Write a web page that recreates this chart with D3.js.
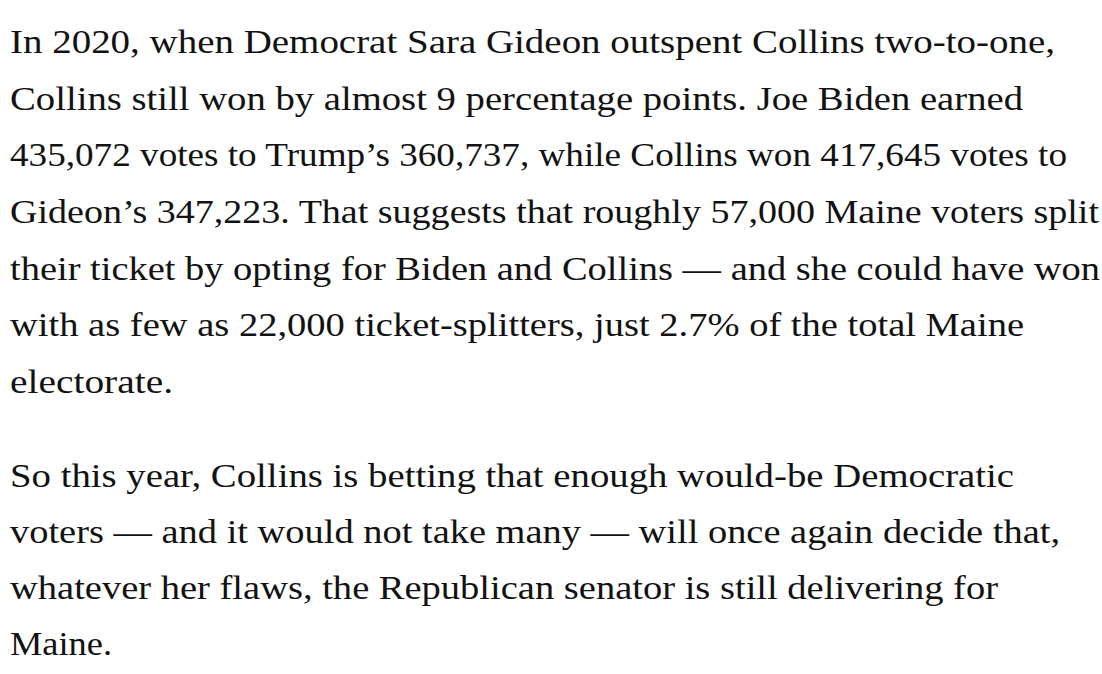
<!DOCTYPE html>
<html lang="en">
<head>
  <meta charset="UTF-8" />
  <title>Collins ticket-splitting</title>
  <script src="https://d3js.org/d3.v7.min.js"></script>
  <style>
    body {
      margin: 0;
      background: #ffffff;
    }
    svg {
      display: block;
    }
    .line {
      font-family: "Liberation Serif", "Times New Roman", serif;
      font-size: 33px;
      fill: #121212;
    }
  </style>
</head>
<body>
  <svg width="1102" height="674"></svg>
  <script>
    // Text of the two paragraphs, one entry per rendered line.
    const paragraphOne = [
      "In 2020, when Democrat Sara Gideon outspent Collins two-to-one,",
      "Collins still won by almost 9 percentage points. Joe Biden earned",
      "435,072 votes to Trump\u2019s 360,737, while Collins won 417,645 votes to",
      "Gideon\u2019s 347,223. That suggests that roughly 57,000 Maine voters split",
      "their ticket by opting for Biden and Collins \u2014 and she could have won",
      "with as few as 22,000 ticket-splitters, just 2.7% of the total Maine",
      "electorate."
    ];
    const paragraphTwo = [
      "So this year, Collins is betting that enough would-be Democratic",
      "voters \u2014 and it would not take many \u2014 will once again decide that,",
      "whatever her flaws, the Republican senator is still delivering for",
      "Maine."
    ];

    // Layout: where each line ends on the right (measured off the page).
    const endsOne = [1055, 1023, 1067, 1099, 1100, 1024, 173];
    const endsTwo = [1014, 1060, 998, 112];

    const left = 10;
    const svg = d3.select("svg");

    function drawParagraph(lines, ends, firstBaseline, step) {
      const y = d3.scaleLinear().domain([0, 1]).range([firstBaseline, firstBaseline + step]);
      svg.append("g")
        .selectAll("text")
        .data(lines)
        .join("text")
        .attr("class", "line")
        .attr("x", left)
        .attr("y", (d, i) => y(i))
        .attr("textLength", (d, i) => ends[i] - left)
        .attr("lengthAdjust", "spacingAndGlyphs")
        .text(d => d);
    }

    drawParagraph(paragraphOne, endsOne, 53, 56.67);
    drawParagraph(paragraphTwo, endsTwo, 487, 56);
  </script>
</body>
</html>
